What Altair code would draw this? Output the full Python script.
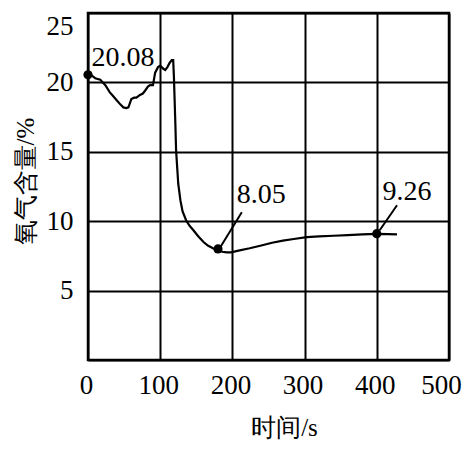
import altair as alt
import pandas as pd

# curve
t = [0, 5, 10, 17, 24, 30, 35, 40, 45, 49, 53, 56, 60, 64, 67, 72, 76, 79, 83, 86, 90, 93, 97, 100, 104, 107, 110, 113, 116, 118, 119, 120, 121, 122, 125, 128, 131, 136, 141, 146, 152, 160, 166, 173, 180, 186, 192, 198, 210, 224, 240, 255, 270, 285, 303, 320, 340, 360, 380, 400, 415, 428]
o2 = [20.6, 20.5, 20.3, 20.2, 19.8, 19.3, 19.0, 18.7, 18.4, 18.2, 18.15, 18.2, 18.8, 18.9, 18.9, 19.1, 19.2, 19.4, 19.7, 19.8, 19.8, 20.7, 21.1, 21.2, 21.0, 20.9, 21.1, 21.4, 21.6, 21.6, 20.4, 18.7, 17.0, 15.1, 12.7, 11.5, 10.7, 10.05, 9.65, 9.35, 8.95, 8.5, 8.25, 8.05, 7.9, 7.8, 7.75, 7.75, 7.9, 8.05, 8.25, 8.45, 8.6, 8.72, 8.85, 8.9, 8.95, 9.0, 9.05, 9.08, 9.07, 9.05]

# marked points
pt_t = [0, 180, 400]
pt_o2 = [20.55, 8.0, 9.1]

# labels
lab_text = ["20.08", "8.05", "9.26"]
lab_t = [5, 206, 408]
lab_o2 = [21.2, 11.3, 11.5]

# leader lines
ld_t = [213, 428]
ld_o2 = [10.65, 11.15]
ld_t2 = [183, 404]
ld_o22 = [8.1, 9.35]

x_ticks = [0, 100, 200, 300, 400, 500]
y_ticks = [0, 5, 10, 15, 20, 25]

curve = pd.DataFrame({"t": t, "o2": o2})
pts = pd.DataFrame({"t": pt_t, "o2": pt_o2})
labs = pd.DataFrame({"t": lab_t, "o2": lab_o2, "text": lab_text})
leads = pd.DataFrame({"t": ld_t, "o2": ld_o2, "t2": ld_t2, "o22": ld_o22})

FONT = "Liberation Serif"

xs = alt.Scale(domain=[0, 500], nice=False)
ys = alt.Scale(domain=[0, 25], nice=False)

xax = alt.Axis(values=x_ticks, grid=True, gridColor="black", gridWidth=2, gridOpacity=1,
               ticks=False, domain=False, labelFont=FONT, labelFontSize=27, labelColor="black",
               labelPadding=12, labelFlush=False, labelOverlap=False,
               labelOffset={"condition": {"test": "datum.value == 500", "value": -8}, "value": -2},
               title="时间/s", titleFont=FONT, titleFontSize=25, titleFontWeight="normal",
               titleColor="black", titleX=196, titleY=67, titleBaseline="middle")
yax = alt.Axis(values=y_ticks, grid=True, gridColor="black", gridWidth=2, gridOpacity=1,
               ticks=False, domain=False, labelFont=FONT, labelFontSize=27, labelColor="black",
               labelPadding=15, labelFlush=True, labelOverlap=False,
               labelExpr="datum.value == 0 ? '' : datum.label",
               title="氧气含量/%", titleFont=FONT, titleFontSize=25, titleFontWeight="normal",
               titleColor="black", titleX=-63, titleY=168, titleBaseline="middle")

line = alt.Chart(curve).mark_line(color="black", strokeWidth=2.2).encode(
    x=alt.X("t:Q", scale=xs, axis=xax),
    y=alt.Y("o2:Q", scale=ys, axis=yax),
)
dots = alt.Chart(pts).mark_circle(color="black", size=85, opacity=1).encode(
    x=alt.X("t:Q", scale=xs), y=alt.Y("o2:Q", scale=ys)
)
texts = alt.Chart(labs).mark_text(font=FONT, fontSize=28, color="black",
                                  align="left", baseline="alphabetic").encode(
    x=alt.X("t:Q", scale=xs), y=alt.Y("o2:Q", scale=ys), text="text:N"
)
rules = alt.Chart(leads).mark_rule(color="black", strokeWidth=2).encode(
    x=alt.X("t:Q", scale=xs), y=alt.Y("o2:Q", scale=ys), x2="t2:Q", y2="o22:Q"
)

chart = alt.layer(line, rules, dots, texts).properties(
    width=361, height=347,
    autosize=alt.AutoSizeParams(type="none"),
    padding={"left": 80, "top": 5, "right": 16, "bottom": 80},
    background="white",
).configure_view(stroke="black", strokeWidth=2.5)

chart.save("out.html", embed_options={"renderer": "svg", "actions": False})
